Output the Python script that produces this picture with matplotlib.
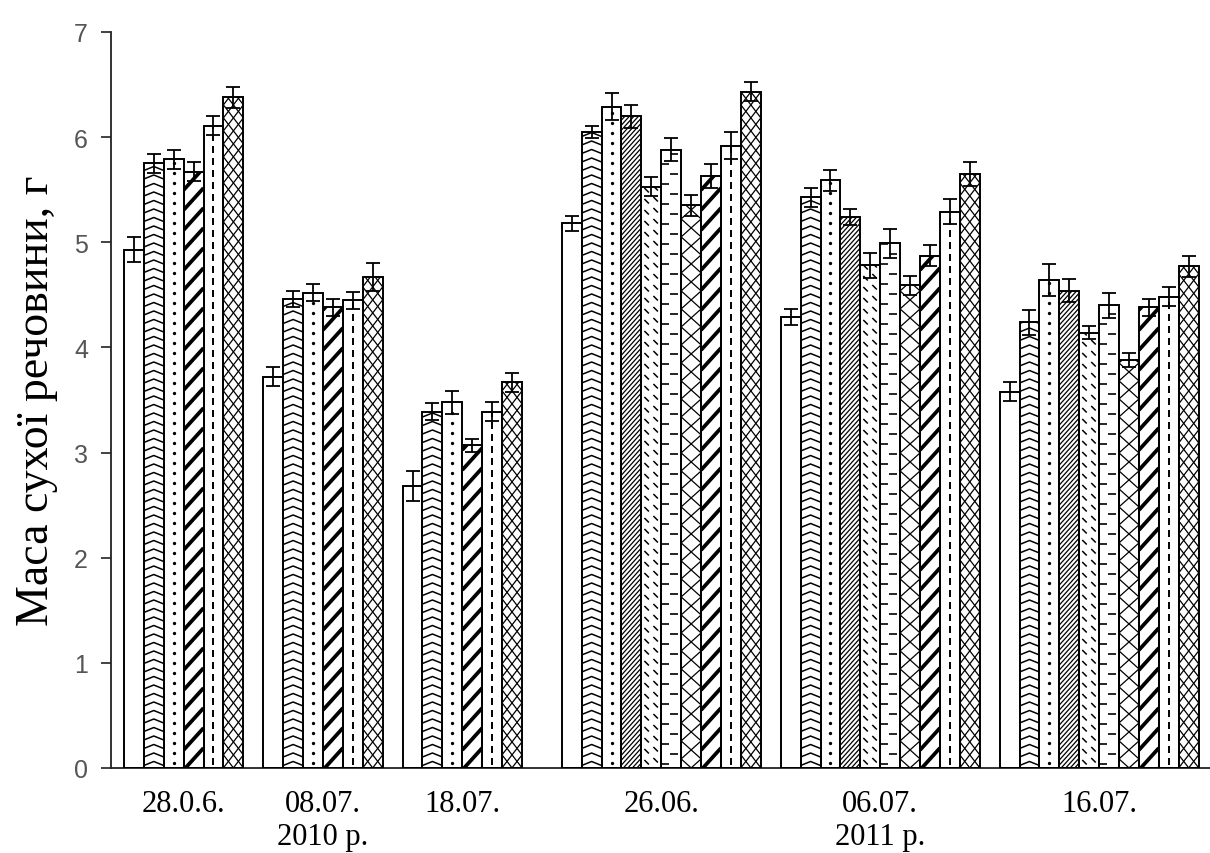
import numpy as np
import matplotlib.pyplot as plt
from matplotlib.collections import LineCollection

plt.rcParams['font.family'] = ['Liberation Sans', 'DejaVu Sans']

dates = ["28.0.6.", "08.07.", "18.07.", "26.06.", "06.07.", "16.07."]
years = ["2010 р.", "2011 р."]

# 2010: six variants per sampling date
mass_2010 = [
    [4.93, 5.75, 5.79, 5.67, 6.11, 6.38],
    [3.72, 4.46, 4.52, 4.38, 4.45, 4.67],
    [2.68, 3.39, 3.48, 3.07, 3.39, 3.67],
]
sd_2010 = [
    [0.12, 0.09, 0.09, 0.09, 0.09, 0.10],
    [0.09, 0.08, 0.08, 0.08, 0.08, 0.13],
    [0.14, 0.08, 0.11, 0.06, 0.09, 0.09],
]

# 2011: ten variants per sampling date
mass_2011 = [
    [5.18, 6.05, 6.29, 6.20, 5.53, 5.88, 5.35, 5.63, 5.92, 6.43],
    [4.29, 5.43, 5.59, 5.24, 4.78, 4.99, 4.59, 4.87, 5.29, 5.65],
    [3.58, 4.24, 4.64, 4.54, 4.14, 4.40, 3.88, 4.38, 4.48, 4.77],
]
sd_2011 = [
    [0.07, 0.06, 0.13, 0.11, 0.09, 0.11, 0.10, 0.11, 0.13, 0.09],
    [0.08, 0.09, 0.10, 0.08, 0.12, 0.14, 0.09, 0.10, 0.12, 0.11],
    [0.09, 0.12, 0.15, 0.11, 0.06, 0.12, 0.07, 0.08, 0.09, 0.10],
]

fills_2010 = ["plain", "wave", "dots", "bold", "dash", "cross"]
fills_2011 = ["plain", "wave", "dots", "fine", "bslash", "comb", "grid",
              "bold", "dash", "cross"]


def pattern(kind, w, h):
    """Line segments and dots (bar-local pixels) for one bar fill."""
    segs, dots = [], []
    if kind == "wave":
        for y in np.arange(-6, h + 6, 8.5):
            segs.append([(0, y), (w / 2, y + 4), (w, y)])
    elif kind == "dots":
        dots = [(w / 2, y) for y in np.arange(5, h - 2, 10)]
    elif kind in ("bold", "fine"):
        step = 20 if kind == "bold" else 5
        rise = 22
        for y in np.arange(-rise, h + step, step):
            segs.append([(0, y), (w, y + rise)])
    elif kind == "dash":
        for y in np.arange(3, h, 12):
            segs.append([(w / 2, y), (w / 2, min(y + 7, h))])
    elif kind in ("cross", "grid"):
        cw, ch = (10, 13) if kind == "cross" else (20, 18)
        half = ch / cw * w / 2
        for c in np.arange(-2 * half, h + 2 * half, ch):
            segs.append([(0, c - half), (w, c + half)])
            segs.append([(0, c + half), (w, c - half)])
    elif kind == "bslash":
        for c in np.arange(0, h + w + 11, 11):
            for x0 in (3, 12):
                segs.append([(x0, c - x0), (x0 + 4.5, c - x0 - 4.5)])
    elif kind == "comb":
        for y in np.arange(4, h, 20):
            segs.append([(0, y), (0.4 * w, y)])
            segs.append([(0.45 * w, y + 10), (0.85 * w, y + 10)])
    return segs, dots


line_widths = {"bold": 2.7, "dash": 1.4, "wave": 1.1, "comb": 1.2, "bslash": 1.1}

fig = plt.figure(figsize=(12.1, 8.54), dpi=100)
ax = fig.add_axes([111 / 1210, 85 / 854, 1099 / 1210, 736 / 854])
ax.set_xlim(-0.65, 54.57)
ax.set_ylim(0, 7)

px_x = ax.transData.transform((1, 0))[0] - ax.transData.transform((0, 0))[0]
px_y = ax.transData.transform((0, 1))[1] - ax.transData.transform((0, 0))[1]

groups = ([(m, s, fills_2010) for m, s in zip(mass_2010, sd_2010)] +
          [(m, s, fills_2011) for m, s in zip(mass_2011, sd_2011)])

centers = []
pos = 0
for gi, (vals, errs, fills) in enumerate(groups):
    if gi == 3:
        pos += 1  # wider gap between the two seasons
    lefts = pos + np.arange(len(vals))
    centers.append(pos + len(vals) / 2)
    pos += len(vals) + 1

    for left, v, kind in zip(lefts, vals, fills):
        rect = ax.bar(left, v, width=1, align='edge', color='white',
                      edgecolor='none', zorder=2)[0]
        segs, dots = pattern(kind, px_x, v * px_y)
        if segs:
            data_segs = [[(left + x / px_x, y / px_y) for x, y in s] for s in segs]
            lc = LineCollection(data_segs, colors='black',
                                linewidths=line_widths.get(kind, 0.9),
                                zorder=2.5, capstyle='butt')
            ax.add_collection(lc)
            lc.set_clip_path(rect)
        if dots:
            xs = [left + x / px_x for x, _ in dots]
            ys = [y / px_y for _, y in dots]
            ln, = ax.plot(xs, ys, 'o', ms=2.4, color='black', mew=0, zorder=2.5)
            ln.set_clip_path(rect)

    ax.bar(lefts, vals, width=1, align='edge', fill=False, edgecolor='black',
           linewidth=1.4, zorder=3)
    ax.errorbar(lefts + 0.5, vals, yerr=errs, fmt='none', ecolor='black',
                elinewidth=1.3, capsize=5, capthick=1.3, zorder=4)

for side in ('top', 'right'):
    ax.spines[side].set_visible(False)
for side in ('left', 'bottom'):
    ax.spines[side].set_linewidth(1.3)
    ax.spines[side].set_color('#222222')

ax.set_yticks(range(8))
ax.tick_params(axis='y', direction='out', length=7.5, width=1.2,
               color='#222222', labelsize=18, labelcolor='#555555', pad=9)
ax.set_xticks(centers, dates, fontsize=22, family='Liberation Serif')
ax.tick_params(axis='x', length=0, pad=15)

for gi, year in zip((1, 4), years):
    ax.text(centers[gi], -0.1035, year, transform=ax.get_xaxis_transform(),
            ha='center', va='baseline', fontsize=22, family='Liberation Serif')

ax.set_ylabel("Маса сухої речовини, г", fontsize=33, family='Liberation Serif',
              va='center')
ax.yaxis.set_label_coords(-0.068, 0.5)

fig.savefig("out.png", dpi=100)
